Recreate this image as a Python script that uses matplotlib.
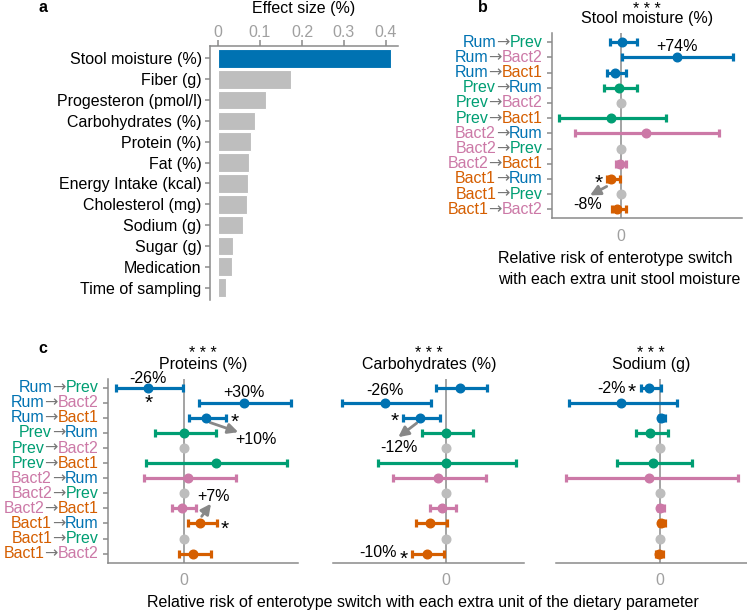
import numpy as np
import matplotlib.pyplot as plt
from matplotlib.offsetbox import TextArea, HPacker, AnnotationBbox

plt.rcParams['font.family'] = ['Liberation Sans', 'DejaVu Sans']
plt.rcParams['font.size'] = 11.5

W, H = 747, 611

# panel a: effect size of each covariate
factors = ['Stool moisture (%)', 'Fiber (g)', 'Progesteron (pmol/l)',
           'Carbohydrates (%)', 'Protein (%)', 'Fat (%)', 'Energy Intake (kcal)',
           'Cholesterol (mg)', 'Sodium (g)', 'Sugar (g)', 'Medication',
           'Time of sampling']
effect_size = [0.411, 0.174, 0.114, 0.087, 0.078, 0.075, 0.071, 0.070,
               0.060, 0.036, 0.033, 0.019]

# enterotype transitions (rows of panels b and c)
sources = ['Rum', 'Rum', 'Rum', 'Prev', 'Prev', 'Prev',
           'Bact2', 'Bact2', 'Bact2', 'Bact1', 'Bact1', 'Bact1']
targets = ['Prev', 'Bact2', 'Bact1', 'Rum', 'Bact2', 'Bact1',
           'Rum', 'Prev', 'Bact1', 'Rum', 'Prev', 'Bact2']

nan = np.nan
# panel b: stool moisture (estimate, lower, upper); nan = not estimable
stool_est = [0.007, 0.557, -0.060, -0.017, nan, -0.100, 0.250, nan, -0.010, -0.103, nan, -0.037]
stool_lo = [-0.110, 0.010, -0.137, -0.167, nan, -0.617, -0.463, nan, -0.050, -0.143, nan, -0.087]
stool_hi = [0.157, 1.123, 0.047, 0.157, nan, 0.447, 0.983, nan, 0.047, -0.010, nan, 0.050]

# panel c
prot_est = [-0.360, 0.597, 0.217, 0.000, nan, 0.314, 0.040, nan, -0.026, 0.160, nan, 0.090]
prot_lo = [-0.680, 0.147, 0.044, -0.290, nan, -0.383, -0.400, nan, -0.126, 0.040, nan, -0.053]
prot_hi = [-0.016, 1.064, 0.414, 0.317, nan, 1.030, 0.514, nan, 0.114, 0.324, nan, 0.267]

carb_est = [0.143, -0.607, -0.257, 0.000, nan, 0.000, -0.080, nan, -0.040, -0.157, nan, -0.190]
carb_lo = [-0.097, -1.033, -0.430, -0.240, nan, -0.673, -0.523, nan, -0.157, -0.300, nan, -0.340]
carb_hi = [0.410, -0.150, -0.057, 0.270, nan, 0.703, 0.403, nan, 0.100, 0.017, nan, -0.017]

sod_est = [-0.110, -0.397, 0.003, -0.103, nan, -0.077, -0.110, nan, -0.003, 0.003, nan, -0.010]
sod_lo = [-0.197, -0.917, -0.013, -0.243, nan, -0.430, -0.947, nan, -0.027, -0.013, nan, -0.047]
sod_hi = [0.007, 0.167, 0.047, 0.073, nan, 0.313, 0.777, nan, 0.040, 0.043, nan, 0.030]

PAL = {'Rum': '#0072B2', 'Prev': '#009E73', 'Bact2': '#CC79A7', 'Bact1': '#D55E00'}
GREY = '#8a8a8a'
TICKGREY = '#a0a0a0'
ARROWGREY = '#888888'
STAR = 15
STAR_MID = 0.47  # height of the asterisk's middle above the baseline, in em


def box(l, t, r, b):
    return [l / W, 1 - b / H, (r - l) / W, (b - t) / H]


def ftext(x, y, s, **kw):
    fig.text(x / W, 1 - y / H, s, **kw)


def star(ax, x, r):
    # shift so the asterisk itself sits on the row
    ax.annotate('*', (x, r), xytext=(0, -STAR_MID * STAR), textcoords='offset points',
                ha='center', va='baseline', size=STAR)


def arrow(ax, start, end):
    ax.annotate('', xy=end, xytext=start,
                arrowprops=dict(arrowstyle='-|>', color=ARROWGREY, lw=2,
                                mutation_scale=15, shrinkA=0, shrinkB=0))


def forest(ax, est, lo, hi, xlim, labels):
    rows = np.arange(1, 13)
    ax.axvline(0, color=GREY, lw=1.1, zorder=0)
    for i, r in enumerate(rows):
        if np.isnan(est[i]):
            ax.plot(0, r, 'o', color='#bdbdbd', ms=6.2, zorder=2)
        else:
            ax.errorbar(est[i], r, xerr=[[est[i] - lo[i]], [hi[i] - est[i]]],
                        fmt='o', color=PAL[sources[i]], ms=6.2, lw=2.3,
                        capsize=3, capthick=2.3, zorder=3)
    ax.set_ylim(12.6, 0.4)
    ax.set_xlim(*xlim)
    ax.set_xticks([0], ['0'])
    ax.tick_params(axis='x', length=0, pad=7.5, labelcolor=TICKGREY)
    for s in ['top', 'right']:
        ax.spines[s].set_visible(False)
    ax.spines['bottom'].set_color(GREY)
    ax.spines['bottom'].set_linewidth(1.1)
    ax.spines['left'].set_color(GREY)
    ax.spines['left'].set_linewidth(1.1)
    if labels:
        ax.set_yticks(rows, [''] * 12)
        ax.tick_params(axis='y', length=3.6, width=1.1, color=GREY)
        for i, r in enumerate(rows):
            parts = [TextArea(sources[i], textprops=dict(color=PAL[sources[i]])),
                     TextArea('\u2192', textprops=dict(color='#777777', family='DejaVu Sans')),
                     TextArea(targets[i], textprops=dict(color=PAL[targets[i]]))]
            pk = HPacker(children=parts, align='baseline', pad=0, sep=0)
            ab = AnnotationBbox(pk, (0, r), xycoords=('axes fraction', 'data'),
                                xybox=(-6.5, 0), boxcoords='offset points',
                                box_alignment=(1, 0.5), frameon=False, pad=0,
                                annotation_clip=False)
            ax.add_artist(ab)
    else:
        ax.spines['left'].set_visible(False)
        ax.set_yticks([])


def heading(xc, y_base, name, ls):
    # significance stars and the parameter name as one two-line text
    ftext(xc, y_base, '* * *\n' + name, ha='center', va='baseline',
          linespacing=ls, multialignment='center')


fig = plt.figure(figsize=(W / 100, H / 100), dpi=100)

# ---- panel a
ax_a = fig.add_axes(box(210, 46, 398, 300))
rows = np.arange(1, 13)
bar_colors = ['#0072B2'] + ['#bebebe'] * 11
ax_a.barh(rows, effect_size, height=0.9, color=bar_colors, edgecolor='white', linewidth=0.8)
ax_a.set_ylim(12.6, 0.4)
ax_a.set_xlim(-0.019, 0.4286)
ax_a.xaxis.tick_top()
ax_a.set_xticks([0, 0.1, 0.2, 0.3, 0.4], ['0', '0.1', '0.2', '0.3', '0.4'])
ax_a.set_yticks(rows, factors)
for s in ['bottom', 'right']:
    ax_a.spines[s].set_visible(False)
for s in ['top', 'left']:
    ax_a.spines[s].set_color(GREY)
    ax_a.spines[s].set_linewidth(1.1)
ax_a.tick_params(axis='x', length=4, width=1.1, color=GREY, labelcolor=TICKGREY, pad=0.5)
ax_a.tick_params(axis='y', length=3.6, width=1.1, color=GREY, pad=2.4)
ftext(304, 13, 'Effect size (%)', ha='center', va='baseline')

# ---- panel b
ax_b = fig.add_axes(box(551.7, 33.2, 741.7, 218.3))
forest(ax_b, stool_est, stool_lo, stool_hi, (-0.693, 1.207), True)
ax_b.text(0.557, 1.3, '+74%', ha='center', va='center')
star(ax_b, 1.217, 2.0)
star(ax_b, -0.227, 10.0)
arrow(ax_b, (-0.143, 10.5), (-0.31, 11.09))
ax_b.text(-0.33, 11.66, '-8%', ha='center', va='center')
heading(646.7, 23.3, 'Stool moisture (%)', 0.56)
ftext(497.7, 263.3, 'Relative risk of enterotype switch', ha='left', va='baseline')
ftext(497.7, 283.5, 'with each extra unit stool moisture', ha='left', va='baseline')

# ---- panel c
ax_p = fig.add_axes(box(107.7, 378.6, 298.3, 562.7))
forest(ax_p, prot_est, prot_lo, prot_hi, (-0.766, 1.14), True)
ax_p.text(-0.36, 0.42, '-26%', ha='center', va='center')
star(ax_p, -0.36, 1.75)
ax_p.text(0.597, 1.3, '+30%', ha='center', va='center')
star(ax_p, 1.15, 2.03)
star(ax_p, 0.504, 3.02)
arrow(ax_p, (0.257, 3.31), (0.54, 3.95))
ax_p.text(0.717, 4.46, '+10%', ha='center', va='center')
ax_p.text(0.29, 8.21, '+7%', ha='center', va='center')
arrow(ax_p, (0.174, 9.53), (0.267, 8.69))
star(ax_p, 0.40, 10.08)

ax_c = fig.add_axes(box(333.3, 378.6, 524.3, 562.7))
forest(ax_c, carb_est, carb_lo, carb_hi, (-1.124, 0.786), False)
star(ax_c, -1.14, 2.03)
ax_c.text(-0.607, 1.2, '-26%', ha='center', va='center')
star(ax_c, -0.514, 2.98)
arrow(ax_c, (-0.29, 3.35), (-0.474, 4.28))
ax_c.text(-0.464, 4.97, '-12%', ha='center', va='center')
ax_c.text(-0.674, 11.95, '-10%', ha='center', va='center')
star(ax_c, -0.424, 12.06)

ax_s = fig.add_axes(box(555.7, 378.6, 746.7, 562.7))
forest(ax_s, sod_est, sod_lo, sod_hi, (-1.046, 0.864), False)
ax_s.text(-0.486, 1.04, '-2%', ha='center', va='center')
star(ax_s, -0.286, 1.02)

for ax, name in [(ax_p, 'Proteins (%)'), (ax_c, 'Carbohydrates (%)'), (ax_s, 'Sodium (g)')]:
    pos = ax.get_position()
    heading((pos.x0 + pos.x1) / 2 * W, 368.5, name, 0.62)

ftext(422.5, 606.5, 'Relative risk of enterotype switch with each extra unit of the dietary parameter',
      ha='center', va='baseline')

# panel letters
ftext(43, 11.7, 'a', ha='center', va='baseline', weight='bold')
ftext(483.3, 11.7, 'b', ha='center', va='baseline', weight='bold')
ftext(43, 353.3, 'c', ha='center', va='baseline', weight='bold')

fig.savefig('out.png', dpi=100)
